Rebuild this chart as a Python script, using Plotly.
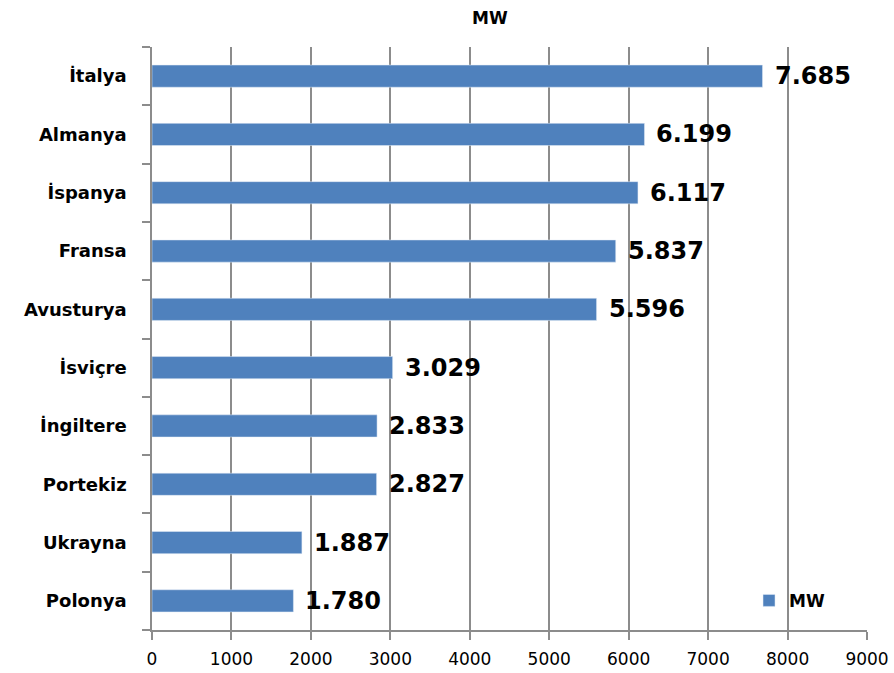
import plotly.graph_objects as go

# Installed capacity by country (MW)
countries = ["İtalya", "Almanya", "İspanya", "Fransa", "Avusturya",
             "İsviçre", "İngiltere", "Portekiz", "Ukrayna", "Polonya"]
mw = [7685, 6199, 6117, 5837, 5596, 3029, 2833, 2827, 1887, 1780]
x_ticks = [0, 1000, 2000, 3000, 4000, 5000, 6000, 7000, 8000, 9000]

bar_color = "#4F81BD"
grid_color = "#8C8C8C"
font_family = "DejaVu Sans"

fig = go.Figure()
fig.add_trace(go.Bar(
    x=mw,
    y=countries,
    orientation="h",
    name="MW",
    marker=dict(color=bar_color),
    width=0.38,
    showlegend=True,
))

# Value labels to the right of each bar, Turkish thousands separator
for c, v in zip(countries, mw):
    fig.add_annotation(
        x=v, y=c, xref="x", yref="y",
        text=f"{v:,}".replace(",", "."),
        showarrow=False, xanchor="left", yanchor="middle",
        xshift=10,
        font=dict(family=font_family, size=24, color="black", weight="bold"),
    )

fig.update_layout(
    width=894, height=673,
    margin=dict(l=152, r=27, t=47, b=43),
    paper_bgcolor="white",
    plot_bgcolor="white",
    separators=",.",
    title=dict(
        text="<b>MW</b>", x=0.548, xanchor="center", y=0.973, yanchor="middle",
        font=dict(family=font_family, size=17, color="black"),
    ),
    legend=dict(
        x=0.835, y=0.05, xanchor="left", yanchor="middle",
        bgcolor="rgba(0,0,0,0)",
        font=dict(family=font_family, size=17, color="black", weight="bold"),
        itemwidth=30,
    ),
    bargap=0.62,
)

fig.update_xaxes(
    range=[0, 9000],
    tickvals=x_ticks,
    ticktext=[str(t) for t in x_ticks],
    showgrid=True, gridcolor=grid_color, gridwidth=1.5,
    showline=True, linecolor=grid_color, linewidth=1.5,
    ticks="outside", ticklen=8, tickcolor=grid_color, tickwidth=1.5,
    ticklabelstandoff=5,
    tickfont=dict(family=font_family, size=17, color="black"),
    zeroline=False,
    automargin=False,
)
fig.update_yaxes(
    categoryorder="array", categoryarray=countries[::-1],
    autorange=True,
    showgrid=False,
    showline=True, linecolor=grid_color, linewidth=1.5,
    ticks="outside", ticklen=8, tickcolor=grid_color, tickwidth=1.5,
    tickson="boundaries",
    ticklabelstandoff=20,
    tickfont=dict(family=font_family, size=18, color="black", weight="bold"),
    automargin=False,
)

fig.write_html("out.html")
